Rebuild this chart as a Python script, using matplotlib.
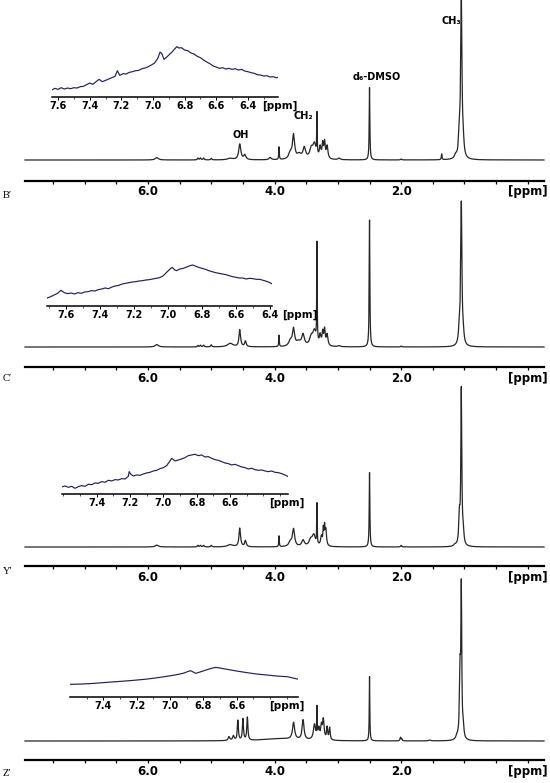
import numpy as np
import matplotlib
matplotlib.use("Agg")
import matplotlib.pyplot as plt

# ---------------- data ----------------
panel_names = ["B\u2032", "C\u2032", "Y\u2032", "Z\u2032"]

# peak tables: (ppm, relative height, half width in ppm)
peaks_B = [(1.05, 100, 0.012), (1.08, 14, 0.015), (1.02, 7, 0.015), (1.14, 2, 0.02),
           (1.36, 3.7, 0.006), (2.00, 0.6, 0.01), (2.50, 46, 0.006), (2.98, 1.0, 0.02),
           (3.17, 8, 0.015), (3.21, 10, 0.012), (3.24, 9, 0.012), (3.28, 7, 0.015),
           (3.33, 26, 0.004), (3.37, 9, 0.03), (3.42, 6, 0.03), (3.53, 7, 0.025),
           (3.61, 3, 0.04), (3.70, 15, 0.02), (3.75, 4, 0.03), (3.93, 8, 0.005),
           (4.07, 1.5, 0.02), (4.55, 10, 0.02), (4.47, 3, 0.02), (4.70, 1, 0.05),
           (5.00, 1, 0.01), (5.12, 1.2, 0.01), (5.17, 1.2, 0.01), (5.21, 1.2, 0.01),
           (5.86, 1.5, 0.03)]
peaks_C = [(1.05, 100, 0.011), (1.08, 12, 0.015), (1.02, 6, 0.015), (2.50, 90, 0.006),
           (2.00, 0.6, 0.01), (2.98, 0.8, 0.02), (3.33, 70, 0.004),
           (3.17, 8, 0.015), (3.21, 11, 0.012), (3.24, 9, 0.012), (3.28, 7, 0.015),
           (3.37, 10, 0.03), (3.42, 6, 0.03), (3.55, 8, 0.025), (3.62, 3, 0.04),
           (3.70, 12, 0.02), (3.75, 4, 0.03), (3.93, 8, 0.005), (4.55, 12, 0.015),
           (4.46, 4, 0.015), (4.70, 2.5, 0.05), (5.00, 1.5, 0.01), (5.12, 1.2, 0.01),
           (5.17, 1.2, 0.01), (5.21, 1.0, 0.01), (5.86, 1.7, 0.03)]
peaks_Y = [(1.05, 100, 0.009), (1.08, 18, 0.012), (1.02, 8, 0.012), (1.15, 1, 0.02),
           (2.50, 48, 0.006), (2.00, 1, 0.01), (3.33, 26, 0.004),
           (3.19, 10, 0.012), (3.21, 11, 0.008), (3.23, 10, 0.008), (3.26, 6, 0.015),
           (3.38, 7, 0.03), (3.43, 4, 0.03), (3.55, 4, 0.025), (3.70, 11, 0.02),
           (3.75, 3, 0.03), (3.93, 7, 0.005), (4.55, 12, 0.015), (4.46, 4, 0.015),
           (4.70, 1.5, 0.05), (5.00, 1, 0.01), (5.12, 1, 0.01), (5.17, 1, 0.01),
           (5.21, 1, 0.01), (5.86, 1.2, 0.03)]
peaks_Z = [(1.05, 95, 0.008), (1.07, 42, 0.011), (1.02, 7, 0.012), (1.12, 2, 0.02),
           (1.55, 0.5, 0.02), (2.01, 2.3, 0.008), (1.99, 1.3, 0.008), (2.50, 42, 0.005),
           (3.33, 19, 0.004), (3.13, 8, 0.01), (3.17, 8, 0.01), (3.23, 13, 0.015),
           (3.26, 8, 0.012), (3.30, 7, 0.015), (3.37, 10, 0.02), (3.55, 13, 0.018),
           (3.70, 11, 0.02), (3.90, 1.5, 0.3), (4.58, 13, 0.01), (4.50, 14, 0.01),
           (4.43, 15, 0.01), (4.65, 3, 0.015), (4.72, 2.5, 0.015)]
peak_tables = [peaks_B, peaks_C, peaks_Y, peaks_Z]

main_tick_labels = ["6.0", "4.0", "2.0"]
main_tick_values = [6.0, 4.0, 2.0]

# inset traces (ppm, intensity)
ins1_ppm = [7.64, 7.62, 7.60, 7.58, 7.56, 7.54, 7.52, 7.50, 7.48, 7.46, 7.44, 7.42, 7.40, 7.38,
            7.36, 7.34, 7.32, 7.30, 7.28, 7.26, 7.24, 7.225, 7.21, 7.19, 7.17, 7.15, 7.13, 7.11,
            7.09, 7.07, 7.05, 7.03, 7.01, 6.99, 6.97, 6.955, 6.945, 6.93, 6.915, 6.90, 6.88,
            6.865, 6.85, 6.835, 6.82, 6.80, 6.78, 6.76, 6.74, 6.72, 6.70, 6.68, 6.66, 6.64,
            6.62, 6.60, 6.58, 6.56, 6.54, 6.52, 6.50, 6.48, 6.46, 6.44, 6.42, 6.40, 6.38,
            6.36, 6.34, 6.32, 6.30, 6.28, 6.26, 6.24, 6.22, 6.21]
ins1_val = [20, 25, 22, 27, 23, 26, 24, 27, 26, 30, 31, 36, 41, 37,
            45, 52, 45, 49, 53, 57, 61, 78, 64, 69, 68, 73, 75, 78,
            79, 84, 86, 90, 95, 101, 115, 134, 130, 112, 118, 125, 134,
            142, 150, 146, 147, 140, 138, 131, 128, 121, 117, 110, 104, 99,
            92, 89, 85, 87, 83, 85, 82, 84, 80, 82, 77, 75, 72,
            70, 66, 65, 62, 63, 59, 60, 57, 58]

ins2_ppm = [7.71, 7.69, 7.67, 7.65, 7.63, 7.61, 7.59, 7.57, 7.55, 7.53, 7.51, 7.49, 7.47, 7.45,
            7.43, 7.41, 7.39, 7.37, 7.35, 7.33, 7.31, 7.29, 7.27, 7.25, 7.23, 7.21, 7.19, 7.17,
            7.15, 7.13, 7.11, 7.09, 7.07, 7.05, 7.03, 7.01, 6.99, 6.975, 6.96, 6.95, 6.93, 6.91,
            6.89, 6.87, 6.855, 6.84, 6.82, 6.80, 6.78, 6.76, 6.74, 6.72, 6.70, 6.68, 6.66, 6.64,
            6.62, 6.60, 6.58, 6.56, 6.54, 6.52, 6.50, 6.48, 6.46, 6.44, 6.42, 6.40, 6.39]
ins2_val = [24, 28, 33, 38, 47, 40, 37, 39, 36, 40, 38, 42, 43, 46,
            45, 49, 51, 54, 52, 57, 60, 62, 66, 68, 70, 72, 73, 75,
            76, 78, 79, 81, 83, 85, 90, 100, 110, 116, 108, 106, 111, 113,
            117, 121, 123, 120, 116, 113, 110, 106, 103, 100, 98, 96, 94, 91,
            88, 86, 84, 84, 81, 83, 82, 80, 80, 77, 74, 70, 67]

ins3_ppm = [7.61, 7.59, 7.57, 7.55, 7.53, 7.51, 7.49, 7.47, 7.45, 7.43, 7.41, 7.39, 7.37, 7.35,
            7.33, 7.31, 7.29, 7.27, 7.25, 7.23, 7.21, 7.205, 7.195, 7.18, 7.16, 7.14, 7.12, 7.10,
            7.08, 7.06, 7.04, 7.02, 7.00, 6.98, 6.96, 6.95, 6.94, 6.93, 6.91, 6.89, 6.87, 6.85,
            6.83, 6.81, 6.79, 6.77, 6.75, 6.73, 6.71, 6.69, 6.67, 6.65, 6.63, 6.61, 6.59, 6.57,
            6.55, 6.53, 6.51, 6.49, 6.47, 6.45, 6.43, 6.41, 6.39, 6.37, 6.35, 6.33, 6.31, 6.29,
            6.27, 6.25]
ins3_val = [22, 25, 21, 24, 18, 23, 26, 24, 30, 29, 34, 33, 38, 36,
            42, 40, 44, 43, 47, 46, 54, 68, 60, 55, 58, 57, 61, 64,
            66, 70, 72, 77, 80, 86, 100, 108, 104, 100, 103, 106, 110, 116,
            118, 120, 116, 118, 112, 113, 108, 104, 102, 98, 94, 92, 88, 90,
            86, 82, 80, 76, 78, 74, 72, 73, 70, 68, 70, 66, 65, 62,
            58, 53]

ins4_ppm = [7.60, 7.53, 7.456, 7.38, 7.296, 7.22, 7.136, 7.06, 6.996, 6.95, 6.916, 6.89, 6.876,
            6.86, 6.846, 6.82, 6.796, 6.76, 6.726, 6.70, 6.656, 6.60, 6.536, 6.48, 6.416, 6.36,
            6.296, 6.226]
ins4_val = [37, 38, 40, 43, 46, 49, 53, 58, 63, 67, 71, 76, 78,
            74, 70, 74, 78, 84, 88, 86, 82, 77, 72, 68, 65, 62,
            60, 52]

inset_ppm = [ins1_ppm, ins2_ppm, ins3_ppm, ins4_ppm]
inset_val = [ins1_val, ins2_val, ins3_val, ins4_val]
inset_tick_labels = [["7.6", "7.4", "7.2", "7.0", "6.8", "6.6", "6.4"],
                     ["7.6", "7.4", "7.2", "7.0", "6.8", "6.6", "6.4"],
                     ["7.4", "7.2", "7.0", "6.8", "6.6"],
                     ["7.4", "7.2", "7.0", "6.8", "6.6"]]

# ---------------- layout (pixels) ----------------
W, H = 550, 783
fig = plt.figure(figsize=(W / 100, H / 100), dpi=100)
fig.patch.set_facecolor("white")


def rect(x0, ytop, x1, ybot):
    return [x0 / W, 1 - ybot / H, (x1 - x0) / W, (ybot - ytop) / H]


# (panel top, CH3 top, baseline, axis line)
panels = [(0, 3, 160, 180.5), (192, 206, 347, 367), (382, 392, 547, 566), (578, 588, 741, 760)]
label_y = [196, 378, 572, 773]
XL, XR = 7.943, -0.256

# insets: x0, x1, axis y, ppm left, ppm right, [ppm] position
insets = [(51.7, 278, 96.7, 7.64, 6.21, 6.20),
          (47.3, 271.7, 306, 7.71, 6.39, 6.225),
          (61.7, 288.3, 494.3, 7.61, 6.25, 6.26),
          (70, 298.3, 696.7, 7.60, 6.23, 6.30)]

xgrid = np.linspace(XR, XL, 16000)

for i, (ptop, ctop, base, axy) in enumerate(panels):
    ax = fig.add_axes(rect(25, ptop, 544, axy))
    spec = np.zeros_like(xgrid)
    for (c, h, w) in peak_tables[i]:
        spec += h * w ** 2 / ((xgrid - c) ** 2 + w ** 2)
    k = 100.0 / (base - ctop)
    ax.set_ylim(-(axy - base) * k, (base - ptop) * k)
    ax.set_xlim(XL, XR)
    ax.plot(xgrid, spec, color="#262626", lw=0.9, clip_on=False)
    for s in ["top", "left", "right"]:
        ax.spines[s].set_visible(False)
    ax.spines["bottom"].set_linewidth(1.6)
    ax.set_facecolor("none")
    ax.set_yticks([])
    ax.set_xticks(main_tick_values)
    ax.set_xticklabels(main_tick_labels, fontsize=8.5, fontweight="bold")
    ax.set_xticks(np.arange(0.0, 7.6, 0.5), minor=True)
    ax.tick_params(axis="x", which="both", direction="out", length=2.2, width=0.9, pad=1.2)
    ax.annotate("[ppm]", xy=(0.0, 0), xycoords=ax.get_xaxis_transform(),
                xytext=(0, -3.4), textcoords="offset points", ha="center", va="top",
                fontsize=8.5, fontweight="bold", annotation_clip=False)
    fig.text(3 / W, 1 - label_y[i] / H, panel_names[i], ha="left", va="center",
             fontsize=7.5, family=["Liberation Serif", "DejaVu Serif"])

    # inset
    x0, x1, iy, pl, pr, ppmpos = insets[i]
    ia = fig.add_axes(rect(x0, iy - 60, x1, iy))
    ia.set_facecolor("none")
    ia.set_xlim(pl, pr)
    ia.set_ylim(0, 180)
    ia.plot(inset_ppm[i], inset_val[i], color="#1f1f66", lw=0.85)
    for s in ["top", "left", "right"]:
        ia.spines[s].set_visible(False)
    ia.spines["bottom"].set_linewidth(1.1)
    ia.set_yticks([])
    tl = inset_tick_labels[i]
    ia.set_xticks([float(t) for t in tl])
    ia.set_xticklabels(tl, fontsize=7, fontweight="bold")
    lo = np.ceil(min(pl, pr) * 10) / 10
    ia.set_xticks(np.arange(lo, max(pl, pr), 0.1), minor=True)
    ia.tick_params(axis="x", which="major", direction="out", length=1.8, width=0.7, pad=1.0)
    ia.tick_params(axis="x", which="minor", direction="out", length=1.2, width=0.5)
    ia.annotate("[ppm]", xy=(ppmpos, 0), xycoords=ia.get_xaxis_transform(),
                xytext=(0, -2.8), textcoords="offset points", ha="center", va="top",
                fontsize=7.5, fontweight="bold", annotation_clip=False)

# peak annotations in the top spectrum
for txt, (x, y) in [("CH\u2083", (451, 21)), ("d\u2086-DMSO", (377, 77)),
                    ("CH\u2082", (303, 116)), ("OH", (241, 135))]:
    fig.text(x / W, 1 - y / H, txt, ha="center", va="center", fontsize=7, fontweight="bold")

fig.savefig("out.png", dpi=100)
